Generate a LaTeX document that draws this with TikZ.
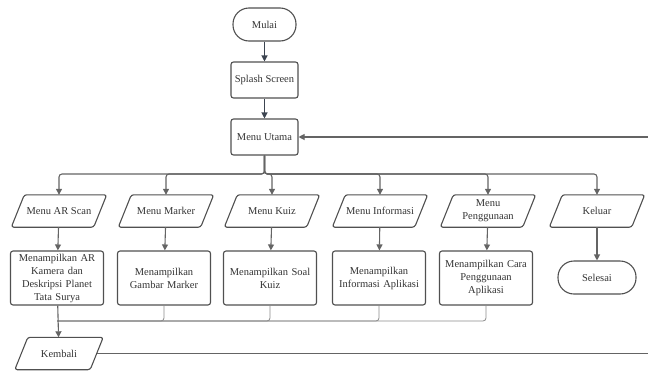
\documentclass[tikz,border=0pt]{standalone}
\usepackage{fontspec}
\setmainfont{Liberation Serif}
\usetikzlibrary{arrows.meta,calc}
\definecolor{lc}{HTML}{646464}
\definecolor{dc}{HTML}{3C4450}
\definecolor{bc}{HTML}{505050}
\definecolor{tc}{HTML}{333333}
\definecolor{thc}{HTML}{8A8A8A}
\newcommand\drawpara[1]{\draw[pbord] ([xshift=6.5pt]#1.north west) -- ([xshift=6.5pt]#1.north east) -- ([xshift=-6.5pt]#1.south east) -- ([xshift=-6.5pt]#1.south west) -- cycle;}
\begin{document}
\begin{tikzpicture}[x=1pt,y=-1pt,
  font=\fontsize{10.5}{13}\selectfont,
  box/.style={draw=bc, line width=1.1pt, rounded corners=2.5pt, text=tc, align=center, inner sep=1pt},
  proc/.style={box, minimum width=67, minimum height=36},
  act/.style={box, minimum width=93, minimum height=54, text width=89},
  term/.style={box, rounded corners=16pt, minimum height=33},
  para/.style={rectangle, minimum width=82, minimum height=32, text=tc, align=center, inner sep=0pt},
  pbord/.style={draw=bc, line width=1.1pt, rounded corners=2.5pt},
  arr/.style={-{Triangle[length=6pt,width=6pt]}, draw=lc, line width=1.1pt},
  arrD/.style={-{Triangle[length=6pt,width=6pt]}, draw=dc, line width=1.2pt},
  thinl/.style={draw=thc, line width=0.8pt}
]
\useasboundingbox (0,0) rectangle (648,370);

\node[term, minimum width=63] (mulai) at (264.5,24.5) {Mulai};
\node[proc] (splash) at (264.5,80) {Splash Screen};
\node[proc] (utama) at (264.5,137) {Menu Utama};

\node[para] (ar) at (59,211) {Menu AR Scan};
\node[para] (marker) at (166,211) {Menu Marker};
\node[para] (kuiz) at (272,211) {Menu Kuiz};
\node[para] (info) at (380,211) {Menu Informasi};
\node[para] (peng) at (488,211) {Menu\\Penggunaan};
\node[para] (keluar) at (597,211) {Keluar};
\foreach \n in {ar,marker,kuiz,info,peng,keluar} {\drawpara{\n}}

\node[act] (arb) at (57,278) {Menampilkan AR\\Kamera dan\\Deskripsi Planet\\Tata Surya};
\node[act] (markerb) at (164,278) {Menampilkan\\Gambar Marker};
\node[act] (kuizb) at (270,278) {Menampilkan Soal\\Kuiz};
\node[act] (infob) at (379,278) {Menampilkan\\Informasi Aplikasi};
\node[act] (pengb) at (486,278) {Menampilkan Cara\\Penggunaan\\Aplikasi};
\node[term, minimum width=78] (selesai) at (597,277.5) {Selesai};

\node[para, minimum width=75] (kembali) at (59,353.5) {Kembali};
\drawpara{kembali}

\coordinate (bus) at (264.5,174);
\coordinate (lb) at (57,321);
\coordinate (r1) at (660,353.5);

\draw[arrD] (mulai) -- (splash);
\draw[arrD] (splash) -- (utama);
\foreach \n in {ar,marker,kuiz,info,peng,keluar}
  {\draw[arr, rounded corners=3pt] (utama.south) -- (bus) -| (\n.north);}
\draw[arr] (ar) -- (arb);
\draw[arr] (marker) -- (markerb);
\draw[arr] (kuiz) -- (kuizb);
\draw[arr] (info) -- (infob);
\draw[arr] (peng) -- (pengb);
\draw[arr] (keluar) -- (selesai);
\foreach \n in {markerb,kuizb,infob,pengb}
  {\draw[thinl, rounded corners=3pt] (\n.south) |- (lb);}
\draw[arr] (arb) -- (kembali);
\draw[arr] (kembali.east) -- (r1) |- (utama.east);
\end{tikzpicture}
\end{document}
